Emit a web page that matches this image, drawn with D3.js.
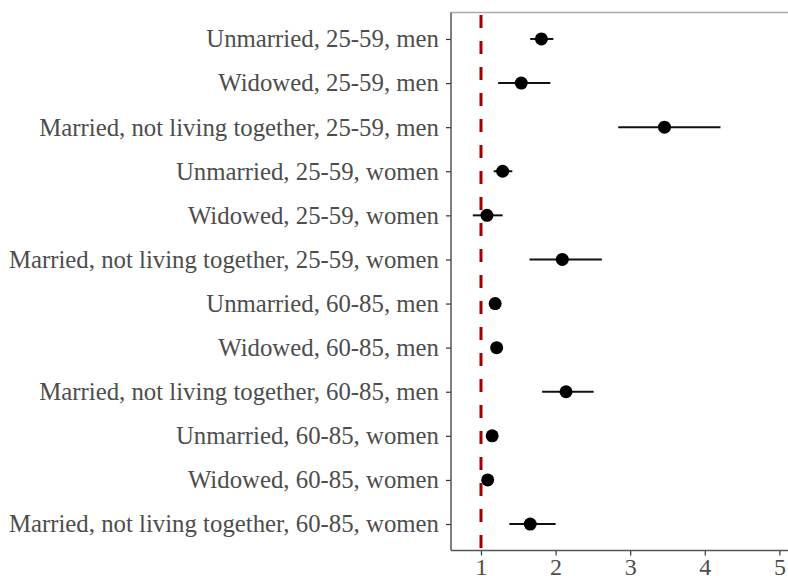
<!DOCTYPE html>
<html>
<head>
<meta charset="utf-8">
<script src="https://cdn.jsdelivr.net/npm/d3@7"></script>
<style>
  html, body { margin: 0; padding: 0; background: #fff; }
  svg { display: block; }
</style>
</head>
<body>
<div id="chart"></div>
<script>
const categories = [
  "Unmarried, 25-59, men",
  "Widowed, 25-59, men",
  "Married, not living together, 25-59, men",
  "Unmarried, 25-59, women",
  "Widowed, 25-59, women",
  "Married, not living together, 25-59, women",
  "Unmarried, 60-85, men",
  "Widowed, 60-85, men",
  "Married, not living together, 60-85, men",
  "Unmarried, 60-85, women",
  "Widowed, 60-85, women",
  "Married, not living together, 60-85, women"
];
const estimates = [1.81, 1.54, 3.46, 1.29, 1.08, 2.09, 1.19, 1.21, 2.14, 1.15, 1.09, 1.66];
const lower     = [1.66, 1.23, 2.84, 1.17, 0.89, 1.65, 1.12, 1.15, 1.82, 1.09, 1.04, 1.38];
const upper     = [1.97, 1.93, 4.21, 1.42, 1.29, 2.62, 1.26, 1.28, 2.51, 1.21, 1.14, 2.00];
const xTicks = [1, 2, 3, 4, 5];
const refValue = 1;

const width = 788, height = 576;
const margin = { top: 12.5, right: 0, bottom: 25.5, left: 451 };

const data = categories.map((c, i) => ({ cat: c, est: estimates[i], lo: lower[i], hi: upper[i] }));

const svg = d3.select("#chart").append("svg")
  .attr("width", width)
  .attr("height", height);

const x = d3.scaleLinear()
  .domain([0.598, 5.10])
  .range([margin.left, margin.left + 4.502 * 74.6]);

const y = d3.scalePoint()
  .domain(categories)
  .range([margin.top, height - margin.bottom])
  .padding(0.6);

const font = "'Liberation Serif', 'Times New Roman', serif";

// panel top border (light)
svg.append("line")
  .attr("x1", margin.left).attr("x2", width + 2)
  .attr("y1", margin.top).attr("y2", margin.top)
  .attr("stroke", "#aaaaaa").attr("stroke-width", 1.5);

// y axis
const yAxis = svg.append("g")
  .attr("transform", `translate(${margin.left},0)`)
  .call(d3.axisLeft(y).tickSize(5).tickPadding(7));
yAxis.select(".domain").remove();
yAxis.selectAll(".tick line").attr("stroke", "#333").attr("stroke-width", 1.2);
yAxis.selectAll(".tick text")
  .attr("font-family", font)
  .attr("font-size", 24.8)
  .attr("fill", "#4d4d4d");

// x axis
const xAxis = svg.append("g")
  .attr("transform", `translate(0,${height - margin.bottom})`)
  .call(d3.axisBottom(x).tickValues(xTicks).tickFormat(d3.format("d")).tickSize(5).tickPadding(2));
xAxis.select(".domain").remove();
xAxis.selectAll(".tick line").attr("stroke", "#333").attr("stroke-width", 1.2);
xAxis.selectAll(".tick text")
  .attr("font-family", font)
  .attr("font-size", 24)
  .attr("fill", "#4d4d4d");

// axis lines
svg.append("line")
  .attr("x1", margin.left).attr("x2", margin.left)
  .attr("y1", margin.top).attr("y2", height - margin.bottom)
  .attr("stroke", "#555").attr("stroke-width", 1.5);
svg.append("line")
  .attr("x1", margin.left).attr("x2", width + 2)
  .attr("y1", height - margin.bottom).attr("y2", height - margin.bottom)
  .attr("stroke", "#555").attr("stroke-width", 1.5);

// reference line
svg.append("line")
  .attr("x1", x(refValue)).attr("x2", x(refValue))
  .attr("y1", margin.top).attr("y2", height - margin.bottom)
  .attr("stroke", "#a00000")
  .attr("stroke-width", 3)
  .attr("stroke-dasharray", "13,13")
  .attr("stroke-dashoffset", -2.5);

// error bars
svg.selectAll(".ci")
  .data(data)
  .enter().append("line")
  .attr("class", "ci")
  .attr("x1", d => x(d.lo)).attr("x2", d => x(d.hi))
  .attr("y1", d => y(d.cat)).attr("y2", d => y(d.cat))
  .attr("stroke", "#111").attr("stroke-width", 2);

// points
svg.selectAll(".pt")
  .data(data)
  .enter().append("circle")
  .attr("class", "pt")
  .attr("cx", d => x(d.est))
  .attr("cy", d => y(d.cat))
  .attr("r", 6.5)
  .attr("fill", "#000");
</script>
</body>
</html>
